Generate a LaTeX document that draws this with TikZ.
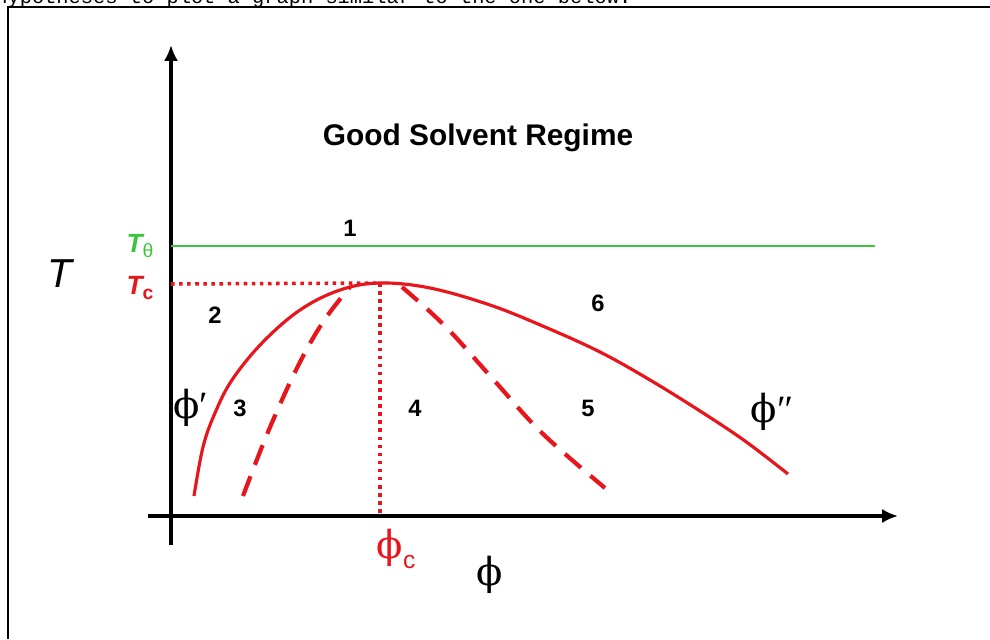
\documentclass[tikz,border=0pt]{standalone}
\usepackage{fontspec}
\setsansfont{Liberation Sans}
\setmonofont{Liberation Mono}
\newfontfamily\phifont{DejaVu Serif}
\newfontfamily\primefont{Liberation Serif}
\usetikzlibrary{arrows.meta}
\definecolor{curvered}{HTML}{E8161C}
\definecolor{thetagreen}{HTML}{3DC43D}

\begin{document}
\begin{tikzpicture}[x=0.02cm, y=-0.02cm,
  every node/.style={font=\sffamily\bfseries},
  region/.style={font=\sffamily\bfseries\fontsize{13.5}{16}\selectfont},
  phisym/.style={font=\phifont\fontsize{22}{26}\selectfont},
  axis/.style={line width=2.2pt, -{Latex[length=9pt,width=8pt]}},
  binodal/.style={curvered, line width=1.8pt},
  spinodal/.style={curvered, line width=2.4pt, dash pattern=on 12pt off 7pt},
  guide/.style={curvered, line width=2pt, dash pattern=on 2pt off 2.6pt}]
  \useasboundingbox (0,0) rectangle (990,639);
  \begin{scope}
    \clip (0,0) rectangle (990,7);
    \node[anchor=base west, inner sep=0pt, font=\ttfamily\fontsize{11.6}{14}\selectfont] (intro) at (-5,4) {hypotheses to plot a graph similar to the one below:};
  \end{scope}
  \draw[line width=1pt] (990,7) -- (8,7) -- (8,639);

  \coordinate (xstart) at (148,516);
  \coordinate (xend) at (898,516);
  \coordinate (ystart) at (171,545);
  \coordinate (yend) at (171,45);
  \coordinate (tth) at (171,246);
  \coordinate (tthend) at (875,246);
  \coordinate (tc) at (171,284);
  \coordinate (crit) at (380,283);
  \coordinate (phicaxis) at (380,516);

  \draw[axis] (ystart) -- (yend);
  \draw[axis] (xstart) -- (xend);
  \draw[thetagreen, line width=1.2pt] (tth) -- (tthend);
  \draw[guide] (tc) -- (crit);
  \draw[guide] (crit) -- (phicaxis);

  \draw[binodal] plot[smooth, tension=0.6] coordinates {(194,496) (203,447) (215,413) (232,380) (262,343) (300,310) (340,290) (380,283) (430,288) (490,305) (545,327) (600,352) (650,380) (700,411) (745,441) (788,474)};
  \draw[spinodal] plot[smooth, tension=0.6] coordinates {(243,496) (268,432) (297,368) (323,322) (350,287)};
  \draw[spinodal] plot[smooth, tension=0.6] coordinates {(402,287) (445,326) (492,378) (542,433) (605,488)};

  \node[font=\sffamily\bfseries\fontsize{17}{20}\selectfont] (regime) at (478,138) {Good Solvent Regime};
  \node[font=\sffamily\itshape\fontsize{23}{26}\selectfont] (tlab) at (60,274) {T};
  \node[text=thetagreen, font=\sffamily\bfseries\itshape\fontsize{15}{18}\selectfont] (ttheta) at (140,246) {T\raisebox{-0.35ex}{\mdseries\upshape\fontsize{11}{13}\selectfont θ}};
  \node[text=curvered, font=\sffamily\bfseries\itshape\fontsize{15}{18}\selectfont] (tclab) at (140,288) {T\raisebox{-0.35ex}{\upshape\fontsize{11}{13}\selectfont c}};

  \node[region] (r1) at (350,228) {1};
  \node[region] (r2) at (215,315) {2};
  \node[region] (r3) at (240,408) {3};
  \node[region] (r4) at (415,408) {4};
  \node[region] (r5) at (588,408) {5};
  \node[region] (r6) at (598,303) {6};

  \node[phisym] (phione) at (191,408) {ϕ{\primefont′}};
  \node[phisym] (phitwo) at (772,412) {ϕ{\primefont″}};
  \node[phisym, text=curvered] (phic) at (396,549) {ϕ\raisebox{-0.5ex}{\sffamily\mdseries\fontsize{14}{16}\selectfont c}};
  \node[phisym] (phiaxis) at (490,575) {ϕ};
\end{tikzpicture}
\end{document}
